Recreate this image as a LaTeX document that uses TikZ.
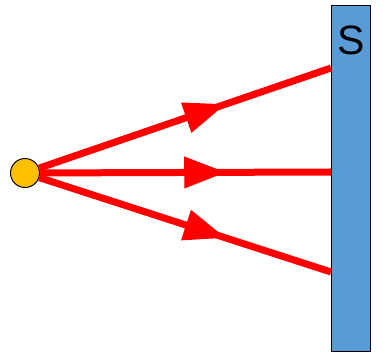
\documentclass[tikz,border=0pt]{standalone}
\usepackage{fontspec}
\setmainfont{Liberation Sans}
\usetikzlibrary{arrows.meta,decorations.markings}
\definecolor{sunyellow}{HTML}{FFC000}
\definecolor{screenblue}{HTML}{5B9BD5}
\tikzstyle{source} = [circle, minimum size=29pt, inner sep=0pt, draw=black, line width=1pt, fill=sunyellow]
\tikzstyle{screen} = [rectangle, minimum width=39pt, minimum height=345pt, inner sep=0pt, draw=black, line width=1pt, fill=screenblue]
\tikzstyle{ray} = [red, line width=7pt, postaction={decorate}, decoration={markings, mark=at position 0.64 with {\arrow{Triangle[length=42pt,width=30pt]}}}]

\begin{document}
\begin{tikzpicture}[x=1pt,y=-1pt]
\useasboundingbox (0,0) rectangle (383,358);
\node (scr) [screen] at (350.5,178.5) {};
\node (lbl) [inner sep=0pt, font=\fontsize{41}{48}\selectfont] at (351,40) {S};
\node (src) [source] at (25,173) {};

\coordinate (hitT) at (331,68);
\coordinate (hitM) at (331,172);
\coordinate (hitB) at (331,272);

\draw [ray] (src) -- (hitT);
\draw [ray] (src) -- (hitM);
\draw [ray] (src) -- (hitB);
\end{tikzpicture}
\end{document}
